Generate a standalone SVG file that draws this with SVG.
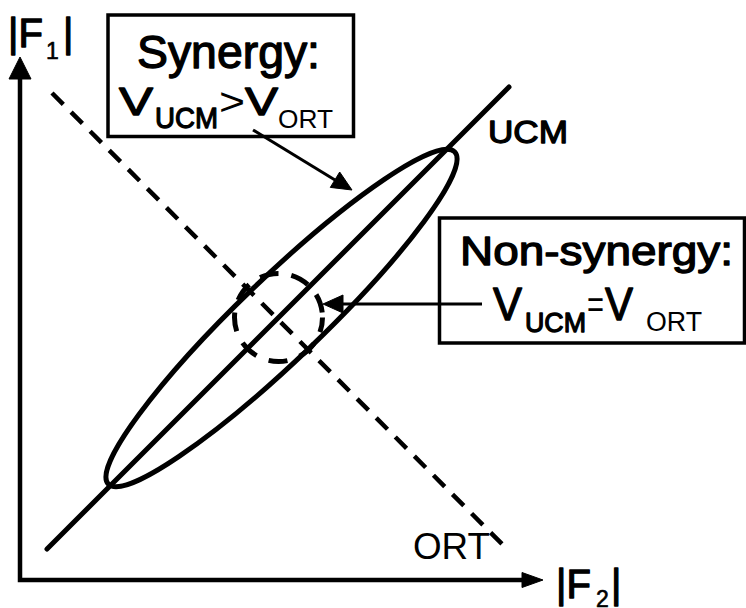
<svg xmlns="http://www.w3.org/2000/svg" width="746" height="608" viewBox="0 0 746 608">
<style>
.ln{fill:none;stroke:#000;stroke-width:5;stroke-linecap:round}
.ax{fill:none;stroke:#000;stroke-width:4.5;stroke-linejoin:miter}
.dash{fill:none;stroke:#000;stroke-width:4.5;stroke-dasharray:16 11}
.ptr{fill:none;stroke:#000;stroke-width:3}
.head{fill:#000;stroke:#000;stroke-width:1;stroke-linejoin:round}
.box{fill:#fff;stroke:#000;stroke-width:3.5}
.t{font-family:"Liberation Sans",Arial,sans-serif;fill:#000}
.sb{stroke:#000;stroke-width:1.3;stroke-linejoin:round}
</style>
<rect width="746" height="608" fill="#fff"/>
<g id="connectors">
  <path class="ax" d="M20,78 L20,580 L523,580"/>
  <polygon class="head" points="20,57 31,79 9,79"/>
  <polygon class="head" points="543,580 522,572.5 522,587.5"/>
  <line class="ln" x1="47" y1="549" x2="509" y2="87"/>
  <line class="dash" x1="52" y1="93" x2="508" y2="550"/>
</g>
<g id="synergy-ellipse">
  <ellipse class="ln" cx="281.5" cy="318" rx="240" ry="41" transform="rotate(-43.8 281.5 318)"/>
</g>
<g id="nonsynergy-circle">
  <circle cx="278.5" cy="317.5" r="44" fill="none" stroke="#000" stroke-width="5" stroke-dasharray="19 13" stroke-dashoffset="4"/>
</g>
<g id="synergy">
  <rect class="box" x="108" y="15" width="245.5" height="121.5"/>
  <text class="t sb" x="137" y="68" font-size="46" textLength="183" lengthAdjust="spacingAndGlyphs">Synergy:</text>
  <text class="t sb" x="119" y="115" font-size="39" textLength="34" lengthAdjust="spacingAndGlyphs">V</text>
  <text class="t sb" x="155" y="128" font-size="30" textLength="63" lengthAdjust="spacingAndGlyphs">UCM</text>
  <text class="t" x="219" y="115" font-size="39" textLength="26" lengthAdjust="spacingAndGlyphs">&gt;</text>
  <text class="t sb" x="245" y="115" font-size="39" textLength="33" lengthAdjust="spacingAndGlyphs">V</text>
  <text class="t" x="278" y="128" font-size="25" textLength="55" lengthAdjust="spacingAndGlyphs">ORT</text>
</g>
<g id="nonsynergy">
  <rect class="box" x="439.5" y="218" width="305" height="125"/>
  <text class="t sb" x="460" y="265" font-size="40" textLength="273" lengthAdjust="spacingAndGlyphs">Non-synergy:</text>
  <text class="t sb" x="493" y="320" font-size="46" textLength="29" lengthAdjust="spacingAndGlyphs">V</text>
  <text class="t sb" x="525" y="332" font-size="28" textLength="61" lengthAdjust="spacingAndGlyphs">UCM</text>
  <text class="t" x="587" y="318" font-size="38" textLength="17" lengthAdjust="spacingAndGlyphs">=</text>
  <text class="t sb" x="605" y="320" font-size="46" textLength="28" lengthAdjust="spacingAndGlyphs">V</text>
  <text class="t" x="646" y="331" font-size="27" textLength="56" lengthAdjust="spacingAndGlyphs">ORT</text>
</g>
<g id="arrows">
  <line class="ptr" x1="253" y1="130" x2="335" y2="180"/>
  <polygon class="head" points="352,190 330.3,187.4 339.7,172"/>
  <line class="ptr" x1="482" y1="304" x2="343" y2="304"/>
  <polygon class="head" points="323,304 343,295 343,313"/>
</g>
<g id="label-ucm">
  <text class="t sb" x="488" y="143" font-size="32" textLength="80" lengthAdjust="spacingAndGlyphs">UCM</text>
</g>
<g id="label-ort">
  <text class="t" x="413" y="559" font-size="36" textLength="77" lengthAdjust="spacingAndGlyphs">ORT</text>
</g>
<g id="axis-f1">
  <text class="t sb" x="8" y="47" font-size="40">|F</text>
  <text class="t sb" x="46" y="59" font-size="23" style="stroke-width:0.6">1</text>
  <text class="t sb" x="63" y="47" font-size="40">|</text>
</g>
<g id="axis-f2">
  <text class="t sb" x="556" y="598" font-size="40">|F</text>
  <text class="t sb" x="596" y="607" font-size="23" style="stroke-width:0.6">2</text>
  <text class="t sb" x="611" y="598" font-size="40">|</text>
</g>
</svg>
